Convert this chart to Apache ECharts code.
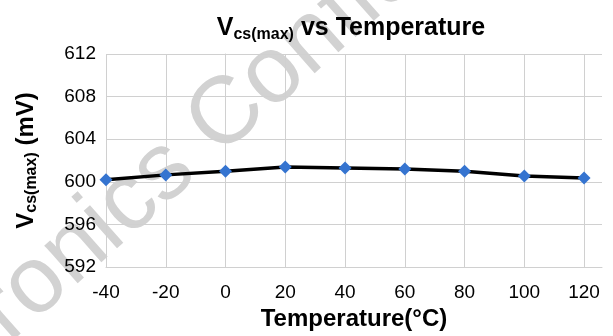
<!DOCTYPE html>
<html>
<head>
<meta charset="utf-8">
<script src="https://cdn.jsdelivr.net/npm/echarts@6/dist/echarts.min.js"></script>
<style>
html,body{margin:0;padding:0;background:#fff;}
#main{width:613px;height:336px;}
</style>
</head>
<body>
<div id="main"></div>
<script>
// 温度点 (°C)
var temps = [-40, -20, 0, 20, 40, 60, 80, 100, 120];
// Vcs(max) 读数 (mV)
var vcsMax = [600.2, 600.65, 601.0, 601.4, 601.3, 601.2, 601.0, 600.55, 600.35];
// 坐标轴刻度
var yTicks = [592, 596, 600, 604, 608, 612];
var xTicks = [-40, -20, 0, 20, 40, 60, 80, 100, 120];

var seriesData = [];
for (var i = 0; i < temps.length; i++) {
	seriesData.push([temps[i], vcsMax[i]]);
}

var myChart = echarts.init(document.getElementById('main'));
var font = 'Liberation Sans, Arial, sans-serif';

var option = {
	backgroundColor: '#fff',
	animation: false,
	title: {
		text: '{v|V}{s|cs(max)}{v| vs Temperature}',
		left: 346,
		top: 8,
		textAlign: 'center',
		textStyle: {
			rich: {
				v: {fontSize: 25, fontWeight: 'bold', color: '#000', fontFamily: font, lineHeight: 30},
				s: {fontSize: 16, fontWeight: 'bold', color: '#000', fontFamily: font, lineHeight: 18, verticalAlign: 'bottom'}
			}
		}
	},
	// 水印 (在网格线下面)
	graphic: [{
		type: 'text',
		x: -166,
		y: 464,
		rotation: 0.725,
		z: -1,
		silent: true,
		style: {
			text: 'Electronics Confidential',
			font: '95px ' + font,
			fill: '#d2d2d2',
			textAlign: 'left',
			textVerticalAlign: 'middle'
		}
	}],
	grid: {
		left: 106,
		right: 11,
		top: 54,
		bottom: 65,
		containLabel: false
	},
	xAxis: {
		type: 'value',
		min: -40,
		max: 126,
		interval: 20,
		name: 'Temperature(°C)',
		nameLocation: 'middle',
		nameGap: 40,
		nameTextStyle: {fontSize: 24, fontWeight: 'bold', color: '#000', fontFamily: font},
		axisLine: {show: true, lineStyle: {color: '#d0d0d0', width: 1}},
		axisTick: {show: false},
		splitLine: {show: true, showMaxLine: false, lineStyle: {color: '#d0d0d0', width: 1}},
		axisLabel: {
			fontSize: 19,
			color: '#000',
			fontFamily: font,
			margin: 16,
			formatter: function (v) {
				return xTicks.indexOf(v) !== -1 ? String(v) : '';
			}
		}
	},
	yAxis: {
		type: 'value',
		min: yTicks[0],
		max: yTicks[yTicks.length - 1],
		interval: 4,
		name: '{v|V}{s|cs(max)}{v| (mV)}',
		nameLocation: 'middle',
		nameGap: 66,
		nameTextStyle: {
			rich: {
				v: {fontSize: 24, fontWeight: 'bold', color: '#000', fontFamily: font, lineHeight: 28},
				s: {fontSize: 16, fontWeight: 'bold', color: '#000', fontFamily: font, lineHeight: 18, verticalAlign: 'bottom'}
			}
		},
		axisLine: {show: true, lineStyle: {color: '#d0d0d0', width: 1}},
		axisTick: {show: false},
		splitLine: {show: true, lineStyle: {color: '#d0d0d0', width: 1}},
		axisLabel: {fontSize: 19, color: '#000', fontFamily: font, margin: 10}
	},
	series: [{
		name: 'Vcs(max)',
		type: 'line',
		z: 3,
		data: seriesData,
		symbol: 'diamond',
		symbolSize: 13,
		lineStyle: {color: '#000', width: 3.5},
		itemStyle: {color: '#3574d0', borderWidth: 0}
	}]
};
myChart.setOption(option);
</script>
</body>
</html>
